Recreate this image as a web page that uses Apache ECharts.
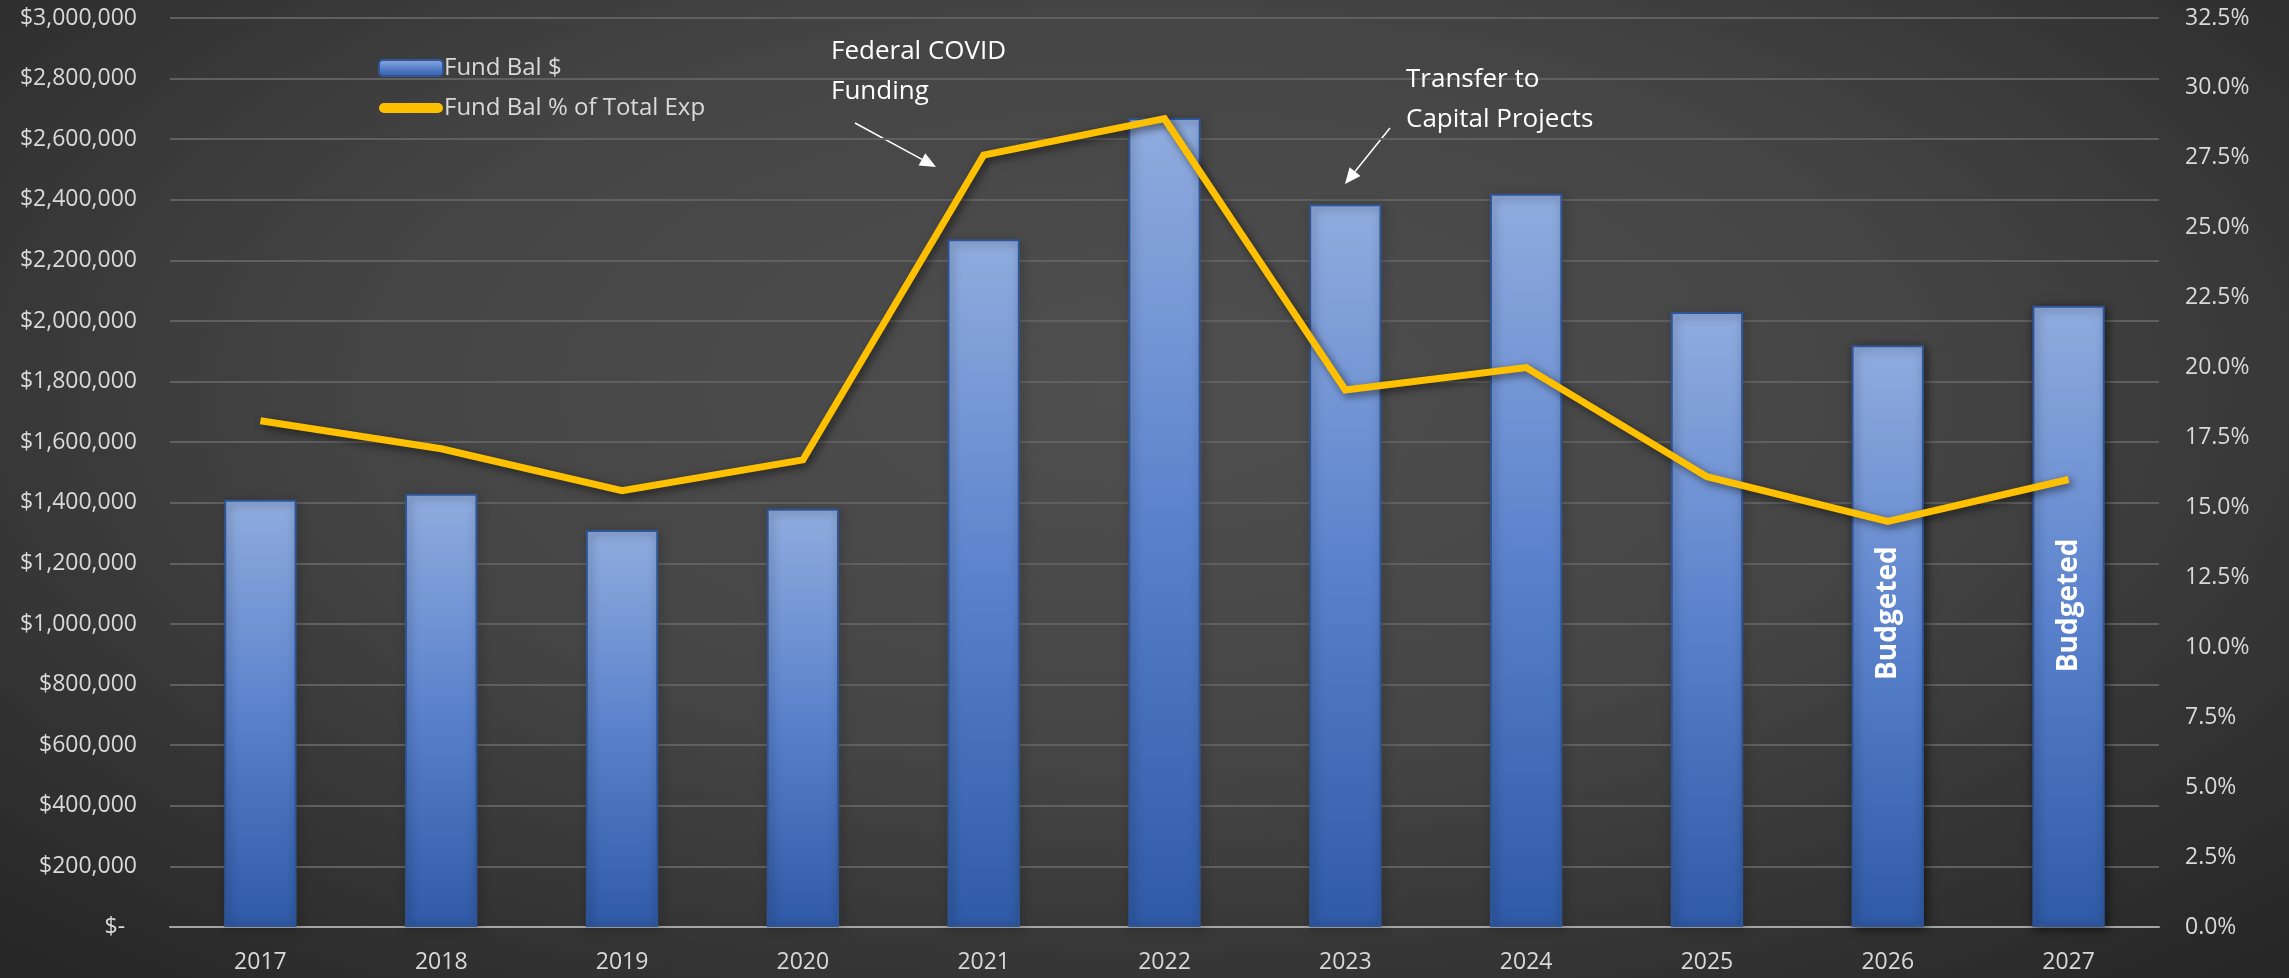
<!DOCTYPE html>
<html>
<head>
<meta charset="utf-8">
<script src="https://cdn.jsdelivr.net/npm/echarts@6/dist/echarts.min.js"></script>
<style>
html,body{margin:0;padding:0;width:2289px;height:978px;overflow:hidden;}
#chart{width:2289px;height:978px;background:radial-gradient(ellipse 75% 85% at 50% 40%, #4f4f4f 0%, #454545 45%, #2c2c2c 85%, #242424 100%);}
</style>
</head>
<body>
<div id="chart"></div>
<script>
const years = ['2017','2018','2019','2020','2021','2022','2023','2024','2025','2026','2027'];
const fundBal = [1410000,1430000,1310000,1380000,2270000,2670000,2385000,2420000,2030000,1920000,2050000];
const fundBalPct = [18.1,17.1,15.6,16.7,27.6,28.9,19.2,20.0,16.1,14.5,16.0];
const barLabels = ['','','','','','','','','','Budgeted','Budgeted'];
const leftTicks = {min:0, max:3000000, interval:200000};
const rightTicks = {min:0, max:32.5, interval:2.5};

const FONT = 'Open Sans';
const labelShift = {9:[23,0], 10:[11,0]};
const chart = echarts.init(document.getElementById('chart'), null, {renderer:'canvas'});

function arrow(x1,y1,x2,y2){
  const dx=x2-x1, dy=y2-y1, L=Math.hypot(dx,dy), ux=dx/L, uy=dy/L;
  const hl=16, hw=7;
  const bx=x2-ux*hl, by=y2-uy*hl;
  return [
    {type:'line', shape:{x1:x1,y1:y1,x2:bx,y2:by}, style:{stroke:'#ffffff', lineWidth:1.5}},
    {type:'polygon', shape:{points:[[x2,y2],[bx-uy*hw,by+ux*hw],[bx+uy*hw,by-ux*hw]]}, style:{fill:'#ffffff'}}
  ];
}

chart.setOption({
  backgroundColor:'transparent',
  textStyle:{fontFamily:FONT},
  grid:{left:170, right:130, top:18, bottom:51, containLabel:false},
  legend:{
    orient:'vertical', left:373, top:51, itemGap:16, itemWidth:64, itemHeight:16,
    symbolKeepAspect:true,
    textStyle:{color:'#d9d9d9', fontSize:24, fontFamily:FONT, padding:[0,0,0,-4]},
    data:[
      {name:'Fund Bal $', icon:'roundRect'},
      {name:'Fund Bal % of Total Exp', icon:'path://M5,0 L59,0 A5,5 0 0 1 59,10 L5,10 A5,5 0 0 1 5,0 Z', itemStyle:{color:'#ffc000'}}
    ]
  },
  xAxis:{
    type:'category', data:years,
    axisLine:{lineStyle:{color:'#a6a6a6', width:2}},
    axisTick:{show:false},
    axisLabel:{color:'#d9d9d9', fontSize:23, margin:24, fontFamily:FONT}
  },
  yAxis:[
    {type:'value', min:leftTicks.min, max:leftTicks.max, interval:leftTicks.interval,
     axisLine:{show:false}, axisTick:{show:false},
     splitLine:{lineStyle:{color:'#606060', width:2}},
     axisLabel:{color:'#d9d9d9', fontSize:23, margin:33, fontFamily:FONT,
       formatter:v=> v===0 ? '$-  ' : '$'+v.toLocaleString('en-US')}},
    {type:'value', min:rightTicks.min, max:rightTicks.max, interval:rightTicks.interval,
     axisLine:{show:false}, axisTick:{show:false}, splitLine:{show:false},
     axisLabel:{color:'#d9d9d9', fontSize:23, margin:26, fontFamily:FONT,
       formatter:v=> v.toFixed(1)+'%'}}
  ],
  series:[
    {name:'Fund Bal $', type:'bar', yAxisIndex:0, barWidth:'40%',
     data:fundBal.map((v,i)=>({value:v, label:{show:!!barLabels[i], formatter:barLabels[i], offset:labelShift[i]||[0,0]}})),
     label:{position:'inside', rotate:90, color:'#ffffff', fontSize:28, fontWeight:'bold', fontFamily:FONT},
     itemStyle:{
       color:{type:'linear',x:0,y:0,x2:0,y2:1,colorStops:[{offset:0,color:'#90acde'},{offset:0.5,color:'#5a82cc'},{offset:1,color:'#2f5aa6'}]},
       borderColor:'#2f5597', borderWidth:2,
       shadowColor:'rgba(0,0,0,0.55)', shadowBlur:10, shadowOffsetX:2, shadowOffsetY:2
     },
     z:2},
    {name:'Fund Bal % of Total Exp', type:'line', yAxisIndex:1, data:fundBalPct,
     symbol:'none', smooth:false,
     lineStyle:{color:'#ffc000', width:7, shadowColor:'rgba(0,0,0,0.55)', shadowBlur:8, shadowOffsetX:3, shadowOffsetY:3, join:'miter'},
     itemStyle:{color:'#ffc000'},
     z:3}
  ],
  graphic:[
    {type:'text', z:100, left:831, top:32, style:{text:'Federal COVID\nFunding', fill:'#ffffff', font:'26px "Open Sans"', lineHeight:40}},
    {type:'text', z:100, left:1406, top:60, style:{text:'Transfer to\nCapital Projects', fill:'#ffffff', font:'26px "Open Sans"', lineHeight:40}},
    {type:'group', z:100, children: arrow(855,123,936,167).concat(arrow(1390,128,1345,184))}
  ]
});
</script>
</body>
</html>
